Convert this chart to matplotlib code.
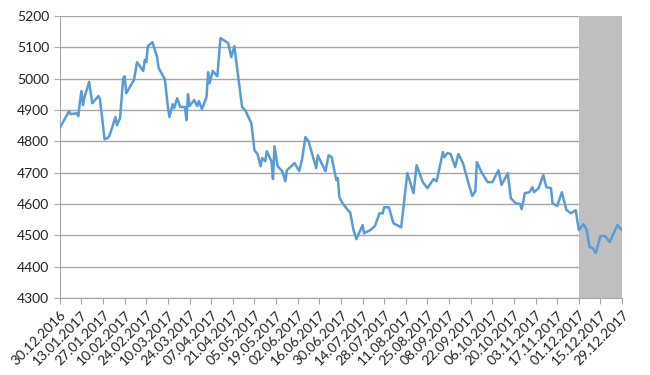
import matplotlib
matplotlib.use("Agg")
import matplotlib.pyplot as plt
import matplotlib.dates as mdates
import numpy as np
import datetime as dt

plt.rcParams['font.family'] = ['Lato', 'DejaVu Sans']

# data: days since 30.12.2016 and index value
start = dt.date(2016, 12, 30)
days = [0, 6, 7, 11, 12, 13, 14, 15, 16, 19, 21, 25, 26, 29, 31, 32, 34, 36, 37, 39,
        41, 42, 43, 48, 50, 54, 55, 56, 57, 60, 63, 64, 68, 70, 71, 73, 74, 76, 78, 81,
        82, 83, 84, 87, 89, 90, 92, 95, 96, 97, 99, 102, 104, 109, 111, 113, 118, 120, 124, 126,
        128, 130, 131, 133, 134, 137, 138, 139, 141, 144, 146, 147, 152, 155, 157, 159, 161, 166, 167, 172,
        174, 176, 179, 180, 181, 183, 187, 188, 190, 192, 196, 197, 201, 204, 207, 209, 210, 213, 216, 221,
        225, 229, 231, 235, 238, 242, 244, 248, 249, 251, 253, 256, 258, 261, 264, 267, 269, 270, 273, 277,
        280, 284, 286, 290, 292, 295, 298, 299, 300, 301, 304, 306, 307, 310, 313, 315, 318, 319, 322, 325,
        328, 331, 334, 336, 339, 341, 343, 345, 347, 350, 353, 356, 361, 364]
values = [4843, 4897, 4887, 4890, 4881, 4926, 4961, 4916, 4942, 4990, 4922, 4945, 4935, 4807, 4811, 4817, 4846, 4878, 4852, 4874,
          5000, 5008, 4954, 4996, 5053, 5025, 5060, 5053, 5104, 5117, 5069, 5034, 4999, 4910, 4878, 4919, 4906, 4938, 4910, 4910,
          4868, 4951, 4913, 4932, 4913, 4929, 4903, 4942, 5021, 4986, 5025, 5008, 5130, 5114, 5069, 5104, 4910, 4900, 4858, 4772,
          4760, 4721, 4747, 4737, 4769, 4737, 4680, 4785, 4721, 4705, 4673, 4708, 4731, 4705, 4747, 4814, 4801, 4715, 4756, 4705,
          4756, 4750, 4677, 4683, 4622, 4603, 4578, 4574, 4520, 4488, 4533, 4507, 4517, 4530, 4571, 4570, 4590, 4590, 4539, 4526,
          4699, 4635, 4724, 4670, 4651, 4680, 4673, 4766, 4750, 4763, 4760, 4718, 4760, 4731, 4677, 4626, 4641, 4734, 4702, 4670,
          4670, 4708, 4661, 4699, 4619, 4603, 4600, 4584, 4606, 4635, 4638, 4654, 4638, 4651, 4693, 4654, 4651, 4603, 4594, 4638,
          4581, 4571, 4581, 4517, 4536, 4520, 4463, 4460, 4444, 4498, 4498, 4479, 4533, 4517]

tick_dates = [start + dt.timedelta(days=14 * i) for i in range(27)]
shade_start = dt.date(2017, 12, 1)
shade_end = dt.date(2017, 12, 29)

dates = [start + dt.timedelta(days=d) for d in days]

fig = plt.figure(figsize=(6.5, 3.75), dpi=100)
ax = fig.add_axes([0.092, 0.205, 0.865, 0.752])

ax.axvspan(shade_start, shade_end, color='#BFBFBF', zorder=1, lw=0)
ax.plot(dates, values, color='#5B9BD5', lw=1.8, zorder=3)

ax.set_xlim(start, shade_end)
ax.set_ylim(4300, 5200)
ax.set_yticks(np.arange(4300, 5201, 100))
ax.set_xticks(tick_dates)
ax.xaxis.set_major_formatter(mdates.DateFormatter('%d.%m.%Y'))

ax.set_axisbelow(True)
ax.grid(axis='y', color='#A6A6A6', lw=1)
for s in ['top', 'right']:
    ax.spines[s].set_visible(False)
for s in ['left', 'bottom']:
    ax.spines[s].set_color('#A6A6A6')
ax.tick_params(axis='both', colors='#A6A6A6', length=4, labelcolor='#222222', labelsize=10)
plt.setp(ax.get_xticklabels(), rotation=45, ha='right', rotation_mode='anchor')

fig.savefig('out.png', dpi=100)
